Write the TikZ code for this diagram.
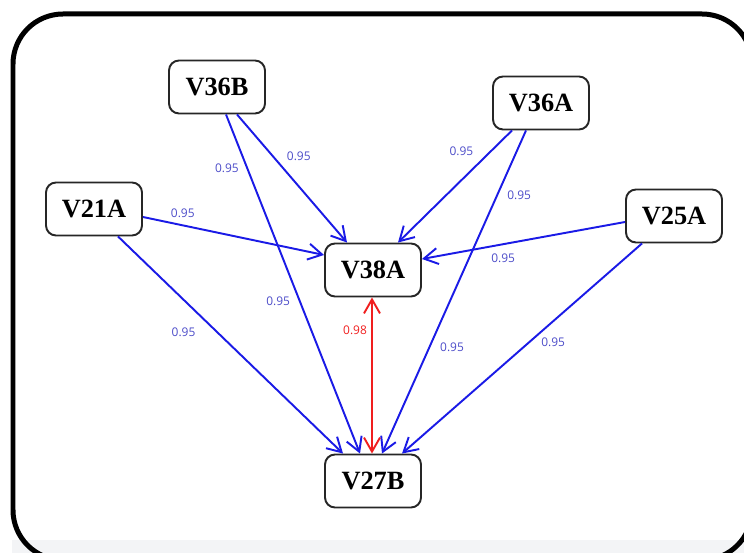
\documentclass[tikz,border=0pt]{standalone}
\usepackage{fontspec}
\setmainfont{Liberation Serif}
\newfontfamily\lblfont{Open Sans}
\usetikzlibrary{arrows.meta}
\definecolor{edgeblue}{HTML}{1A1AE6}
\definecolor{lblblue}{HTML}{4B4BC8}
\definecolor{edgered}{HTML}{F01E1E}
\definecolor{stripgray}{HTML}{F3F4F6}

\begin{document}
\begin{tikzpicture}[x=0.02cm,y=-0.02cm,>={Straight Barb[length=2.8mm,width=3.2mm]},
    state/.style={draw=black!85,line width=1.1pt,rounded corners=0.2cm,fill=white,minimum width=1.92cm,minimum height=1.06cm,inner sep=0pt,font=\bfseries\fontsize{15}{18}\selectfont},
    link/.style={edgeblue,line width=1.1pt,->},
    lbl/.style={lblblue,font=\lblfont\fontsize{6.8}{8}\selectfont,inner sep=0pt}]
    \clip (0,0) rectangle (744,553);
    \fill[stripgray] (12,540) rectangle (744,553);
    \draw[line width=0.1cm,rounded corners=1cm] (13,14) rectangle (752,560);

    \node[state] (v36b) at (217,87) {V36B};
    \node[state] (v36a) at (541,103) {V36A};
    \node[state] (v21a) at (94,209) {V21A};
    \node[state] (v25a) at (674,216) {V25A};
    \node[state] (v38a) at (373,270) {V38A};
    \node[state] (v27b) at (373,481) {V27B};

    \draw[link] ([xshift=0.4cm]v36b.south) -- node[lbl,pos=0.33,xshift=0.51cm] {0.95} ([xshift=-0.52cm]v38a.north);
    \draw[link] ([xshift=0.18cm]v36b.south) -- node[lbl,pos=0.16,xshift=-0.41cm] {0.95} node[lbl,pos=0.55,xshift=-0.43cm] {0.95} ([xshift=-0.26cm]v27b.north);
    \draw[link] ([xshift=-0.58cm]v36a.south) -- node[lbl,pos=0.19,xshift=-0.58cm] {0.95} ([xshift=0.5cm]v38a.north);
    \draw[link] ([xshift=-0.3cm]v36a.south) -- node[lbl,pos=0.2,xshift=0.44cm] {0.95} node[lbl,pos=0.67,xshift=0.45cm] {0.95} ([xshift=0.18cm]v27b.north);
    \draw[link] ([yshift=-0.16cm]v21a.east) -- node[lbl,pos=0.22,yshift=0.25cm] {0.95} ([yshift=0.3cm]v38a.west);
    \draw[link] ([xshift=0.48cm]v21a.south) -- node[lbl,pos=0.44,xshift=-0.67cm] {0.95} ([xshift=-0.6cm]v27b.north);
    \draw[link] ([yshift=-0.12cm]v25a.west) -- node[lbl,pos=0.6,yshift=-0.28cm] {0.95} ([yshift=0.22cm]v38a.east);
    \draw[link] ([xshift=-0.64cm]v25a.south) -- node[lbl,pos=0.47,xshift=0.48cm] {0.95} ([xshift=0.58cm]v27b.north);
    \draw[edgered,line width=1.1pt,<->] ([xshift=-0.02cm]v38a.south) -- node[lbl,edgered,pos=0.21,xshift=-0.34cm] {0.98} ([xshift=-0.02cm]v27b.north);
\end{tikzpicture}
\end{document}
